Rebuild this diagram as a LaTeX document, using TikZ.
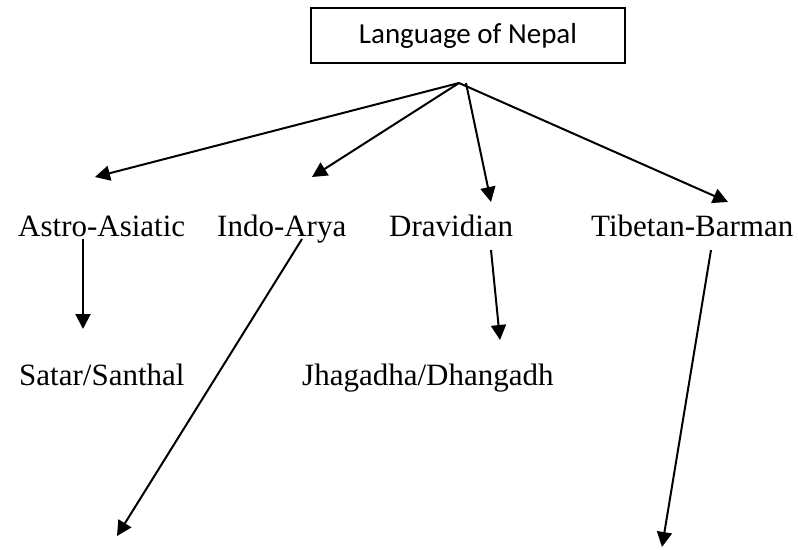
\documentclass[tikz,border=0pt]{standalone}
\usepackage{fontspec}
\setmainfont{Liberation Serif}
\newfontfamily\boxfont{Carlito}
\usetikzlibrary{arrows.meta}
\begin{document}
\begin{tikzpicture}[x=1pt,y=-1pt,
  lab/.style={anchor=base west, inner sep=0pt, font=\fontsize{31}{36}\selectfont},
  conn/.style={line width=2pt, -{Triangle[length=15pt,width=15pt]}},
  rootbox/.style={draw, line width=1.5pt, minimum width=314pt, minimum height=55pt, inner sep=0pt, font=\boxfont\fontsize{29}{34}\selectfont}
]
\useasboundingbox (0,0) rectangle (798,549);
\node[rootbox] (root) at (468,35.5) {Language of Nepal};
\node[lab] (aa) at (18,236) {Astro-Asiatic};
\node[lab] (ia) at (217,236) {Indo-Arya};
\node[lab] (dr) at (389,236) {Dravidian};
\node[lab] (tb) at (591,236) {Tibetan-Barman};
\node[lab] (ss) at (19,385) {Satar/Santhal};
\node[lab] (jd) at (302,385) {Jhagadha/Dhangadh};
\coordinate (hub) at (459,83);
\coordinate (hubd) at (466,83);
\coordinate (aaT) at (95,177);
\coordinate (iaT) at (312,177);
\coordinate (drT) at (491,202);
\coordinate (tbT) at (728,202);
\coordinate (aaS) at (83,239);
\coordinate (aaE) at (83,329);
\coordinate (iaS) at (302,239);
\coordinate (iaE) at (117,536);
\coordinate (drS) at (491,250);
\coordinate (drE) at (500,340);
\coordinate (tbS) at (711,250);
\coordinate (tbE) at (662,547);
\draw[conn] (hub) -- (aaT);
\draw[conn] (hub) -- (iaT);
\draw[conn] (hubd) -- (drT);
\draw[conn] (hub) -- (tbT);
\draw[conn] (aaS) -- (aaE);
\draw[conn] (iaS) -- (iaE);
\draw[conn] (drS) -- (drE);
\draw[conn] (tbS) -- (tbE);
\end{tikzpicture}
\end{document}
